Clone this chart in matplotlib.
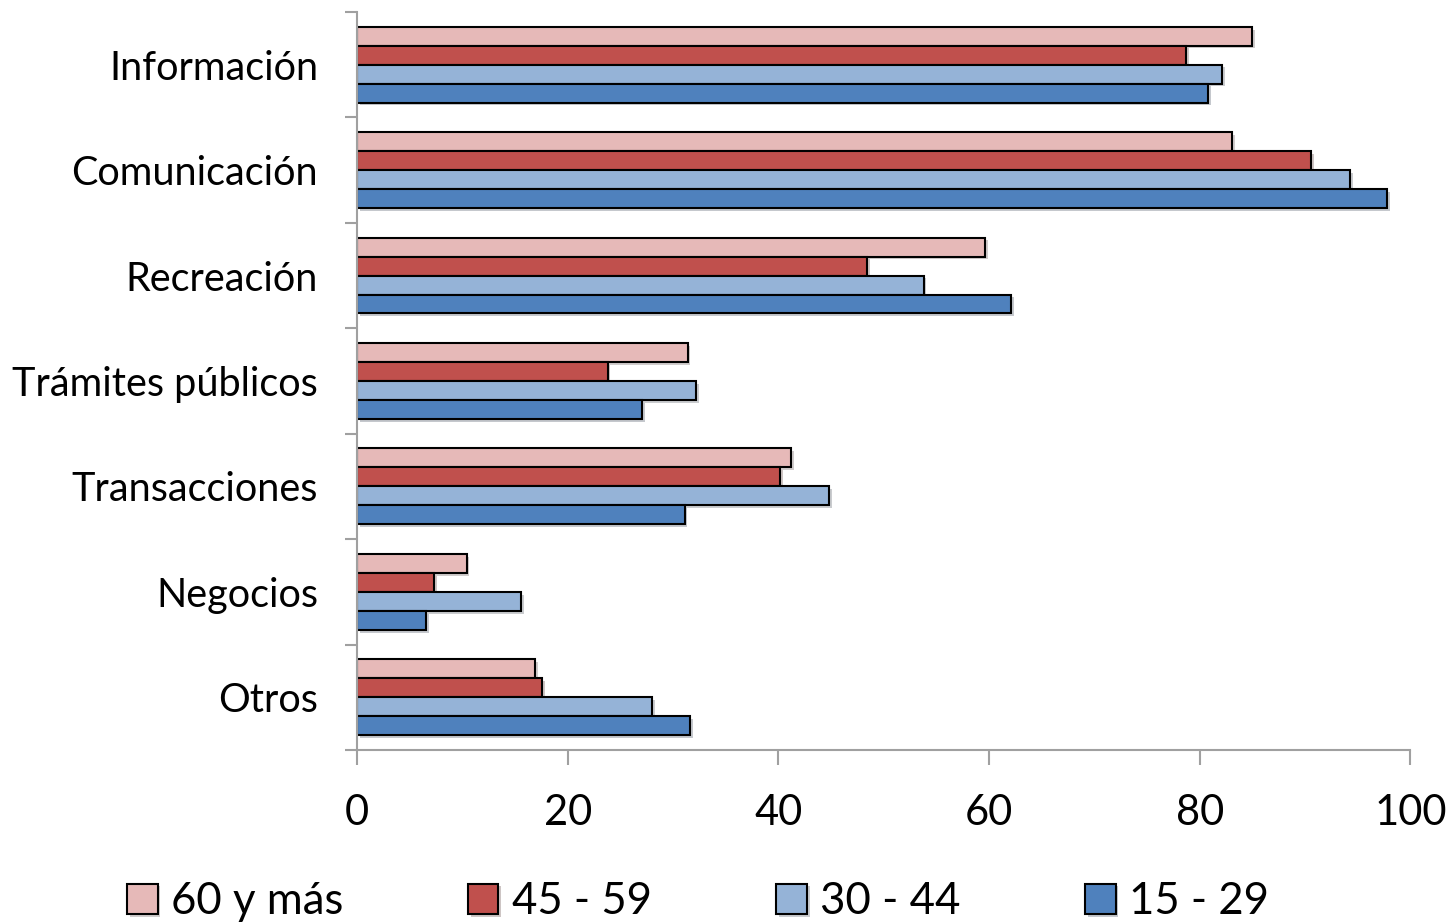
import numpy as np
import matplotlib
matplotlib.use('Agg')
import matplotlib.pyplot as plt
import matplotlib.patheffects as pe

plt.rcParams['font.family'] = ['Lato', 'DejaVu Sans']

# data
categories = ['Información', 'Comunicación', 'Recreación', 'Trámites públicos',
              'Transacciones', 'Negocios', 'Otros']
series_names = ['60 y más', '45 - 59', '30 - 44', '15 - 29']
v60 = [85.0, 83.1, 59.6, 31.4, 41.2, 10.4, 16.9]
v45 = [78.7, 90.6, 48.4, 23.8, 40.2, 7.3, 17.6]
v30 = [82.1, 94.3, 53.8, 32.2, 44.8, 15.6, 28.0]
v15 = [80.8, 97.8, 62.1, 27.1, 31.1, 6.6, 31.6]
colors = ['#E6B9B8', '#C0504D', '#95B3D7', '#4F81BD']
xticks = [0, 20, 40, 60, 80, 100]

fig = plt.figure(figsize=(14.51, 9.22), dpi=100)
ax = fig.add_axes([0.246, 0.1866, 0.726, 0.8004])

y = np.arange(len(categories))
h = 0.18
shadow = [pe.SimplePatchShadow(offset=(2, -2), alpha=0.25), pe.Normal()]
for k, (vals, c, name) in enumerate(zip([v60, v45, v30, v15], colors, series_names)):
    bars = ax.barh(y + (k - 1.5) * h, vals, height=h, color=c, edgecolor='black',
                   linewidth=1.5, label=name)
    for b in bars:
        b.set_path_effects(shadow)

ax.set_ylim(len(categories) - 0.5, -0.5)
ax.set_xlim(0, 100)
ax.set_yticks(y)
ax.set_yticklabels(categories)
ax.set_yticks(np.arange(-0.5, len(categories)), minor=True)
ax.tick_params(axis='y', which='major', length=0, pad=28, labelsize=28.5)
ax.tick_params(axis='y', which='minor', length=9, width=1.5, color='#A0A0A0')
ax.set_xticks(xticks)
ax.tick_params(axis='x', length=11, width=1.5, color='#A0A0A0', pad=21, labelsize=30)

for s in ['top', 'right']:
    ax.spines[s].set_visible(False)
for s in ['left', 'bottom']:
    ax.spines[s].set_color('#A0A0A0')
    ax.spines[s].set_linewidth(1.5)

fig.legend(loc='center', bbox_to_anchor=(0.481, 0.022), ncol=4, frameon=False,
           fontsize=31.5, handlelength=0.7, handleheight=0.7, handletextpad=0.3,
           columnspacing=2.85)

fig.savefig('out.png', dpi=100)
